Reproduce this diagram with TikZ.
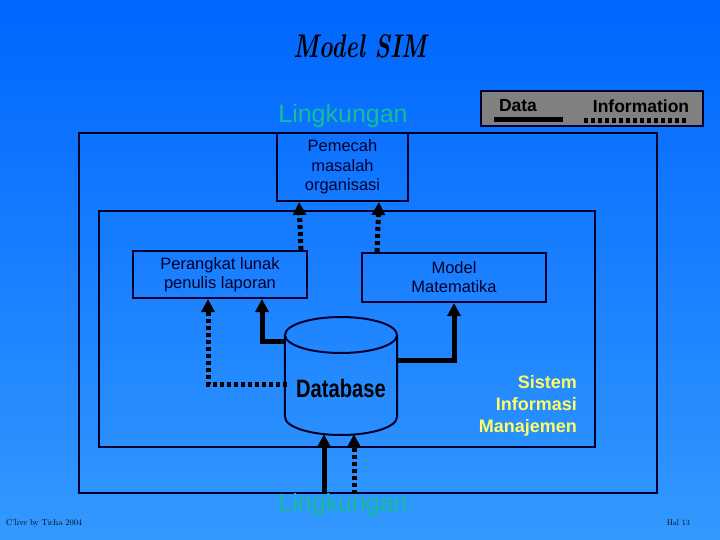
\documentclass[tikz,border=0pt]{standalone}
\usepackage{fontspec}
\setsansfont{Liberation Sans}
\usetikzlibrary{arrows.meta,calc}
\definecolor{bgtop}{RGB}{0,102,255}
\definecolor{bgbot}{RGB}{51,153,255}
\definecolor{navy}{RGB}{0,0,45}
\definecolor{teal}{RGB}{20,190,150}
\definecolor{yell}{RGB}{255,255,100}
\definecolor{legendgray}{RGB}{128,128,128}
\tikzset{
  box/.style={draw=navy, line width=2pt, inner sep=0pt, align=center, text=navy,
    font=\sffamily\fontsize{16.5}{19.5}\selectfont},
  frame/.style={draw=navy, line width=2pt, inner sep=0pt},
  solidarrow/.style={draw=black, line width=5pt, -{Triangle[width=13pt,length=13pt]}},
  dotarrow/.style={draw=black, line width=5pt, dash pattern=on 4pt off 3pt,
    -{Triangle[width=13pt,length=13pt]}},
  envtext/.style={text=teal, font=\sffamily\fontsize{25}{30}\selectfont, inner sep=0pt},
}
\begin{document}
\begin{tikzpicture}[x=1pt,y=-1pt]
\useasboundingbox (0,0) rectangle (720,540);
\shade[top color=bgtop, bottom color=bgbot] (0,0) rectangle (720,540);

% title
\node[inner sep=0pt, anchor=base] (title) at (360,58) {\resizebox{133pt}{23pt}{\bfseries\itshape Model SIM}};

% outer environment frame and inner SIM frame
\node[frame, minimum width=578pt, minimum height=360pt] (env) at (368,313) {};
\node[frame, minimum width=496pt, minimum height=236pt] (sim) at (347,329) {};

% legend
\node[draw=navy, line width=2pt, fill=legendgray, minimum width=222pt, minimum height=35pt] (legend) at (592,108.5) {};
\node[inner sep=0pt, font=\sffamily\bfseries\fontsize{17.5}{20}\selectfont, text=black] (ldata) at (518,106) {Data};
\node[inner sep=0pt, font=\sffamily\bfseries\fontsize{17.5}{20}\selectfont, text=black] (linfo) at (641,106) {Information};
\coordinate (ls1) at (494,120);
\coordinate (ls2) at (563,120);
\coordinate (ld1) at (584,121);
\coordinate (ld2) at (686,121);
\draw[black, line width=5pt] (ls1) -- (ls2);
\draw[black, line width=5pt, dash pattern=on 4pt off 3pt] (ld1) -- (ld2);

% labels
\node[envtext] (ltop) at (343,116) {Lingkungan};
\node[envtext] (lbot) at (343,505) {Lingkungan};

% boxes
\node[box, minimum width=131pt, minimum height=68pt] (pm) at (342.5,167) {Pemecah\\masalah\\organisasi};
\node[box, minimum width=174pt, minimum height=47pt, font=\sffamily\fontsize{16.5}{19}\selectfont] (pl) at (220,274.5) {Perangkat lunak\\penulis laporan};
\node[box, minimum width=184pt, minimum height=49pt, font=\sffamily\fontsize{16.5}{19}\selectfont] (mm) at (454,277.5) {Model\\Matematika};

% database cylinder
\node[minimum width=112pt, minimum height=118pt, inner sep=0pt] (db) at (341,376) {};
\draw[navy, line width=2pt] (341,335) ellipse [x radius=56pt, y radius=18pt];
\draw[navy, line width=2pt] (db.west |- 0,335) -- (285,417)
  arc[start angle=180, end angle=360, x radius=56pt, y radius=18pt] -- (397,335);
\node[inner sep=0pt, text=black] (dbt) at (341,388) {\scalebox{0.84}[1.05]{\sffamily\bfseries\fontsize{24}{28}\selectfont Database}};

% SIM label
\node[inner sep=0pt, anchor=east, align=right, text=yell,
  font=\sffamily\bfseries\fontsize{18}{22}\selectfont] (simlabel) at (577,406) {Sistem\\Informasi\\Manajemen};

% footer
\node[inner sep=0pt, anchor=west, text=black] (foot1) at (6,523) {\resizebox{76pt}{!}{\fontsize{11}{12}\selectfont C'live by Ticha 2004}};
\node[inner sep=0pt, anchor=east, text=black] (foot2) at (690,523) {\resizebox{23pt}{!}{\fontsize{11}{12}\selectfont Hal 13}};

% connectors
\draw[dotarrow] ($(pl.north east)+(-7,0)$) -- ($(pm.south west)+(23,0)$);
\draw[dotarrow] ($(mm.north west)+(16,0)$) -- ($(pm.south east)+(-30,0)$);
\draw[solidarrow] ($(db.west)+(0,-35)$) -| ($(pl.south west)+(130,0)$);
\draw[dotarrow] ($(db.west)+(2,8)$) -| ($(pl.south west)+(76,0)$);
\draw[solidarrow] ($(db.east)+(0,-16)$) -| ($(mm.south west)+(93,0)$);
\draw[solidarrow] ($(env.south)+(-44,0)$) -- ($(db.south)+(-17,-1)$);
\draw[dotarrow] ($(env.south)+(-14,0)$) -- ($(db.south)+(13,-1)$);
\end{tikzpicture}
\end{document}
